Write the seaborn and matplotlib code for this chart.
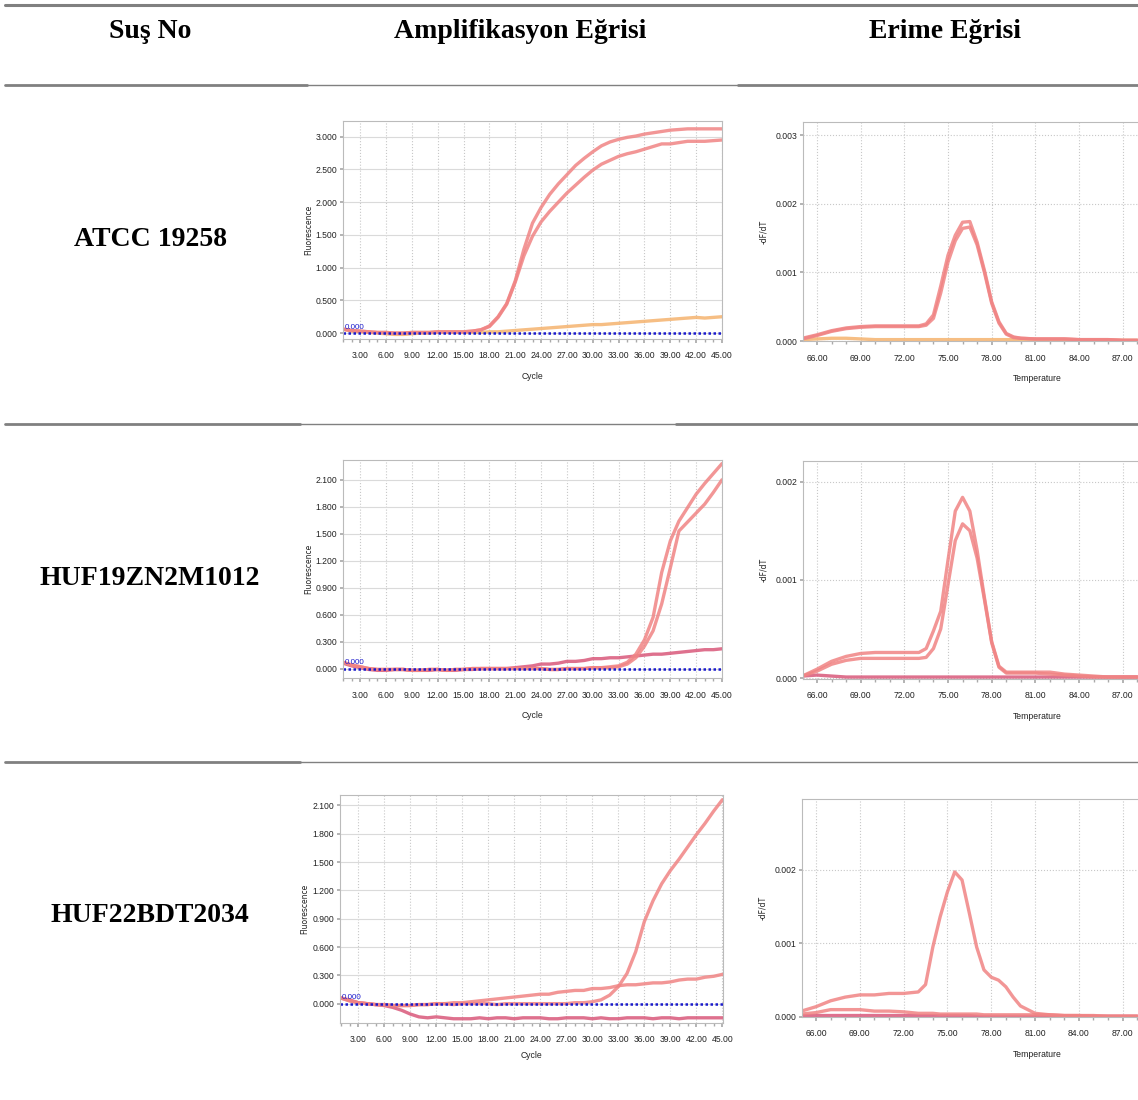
import numpy as np
import pandas as pd
import seaborn as sns
import matplotlib.pyplot as plt
from matplotlib.ticker import MultipleLocator, FormatStrFormatter
from matplotlib.lines import Line2D

# tablo basliklari ve sus isimleri
headers = ["Suş No", "Amplifikasyon Eğrisi", "Erime Eğrisi"]
strains = ["ATCC 19258", "HUF19ZN2M1012", "HUF22BDT2034"]

cycles = list(range(1, 46))

# --- amplifikasyon egrileri (Fluorescence) ---
amp1_a = [0.06, 0.04, 0.03, 0.02, 0.01, 0.01, 0.00, 0.00, 0.01, 0.01, 0.01, 0.02, 0.02, 0.02, 0.02,
          0.03, 0.05, 0.11, 0.25, 0.45, 0.80, 1.28, 1.68, 1.92, 2.12, 2.28, 2.42, 2.56, 2.67, 2.77,
          2.86, 2.92, 2.96, 2.99, 3.01, 3.04, 3.06, 3.08, 3.10, 3.11, 3.12, 3.12, 3.12, 3.12, 3.12]
amp1_b = [0.06, 0.04, 0.03, 0.02, 0.01, 0.01, 0.00, 0.00, 0.01, 0.01, 0.01, 0.02, 0.02, 0.02, 0.02,
          0.03, 0.05, 0.10, 0.24, 0.44, 0.78, 1.18, 1.48, 1.70, 1.86, 2.00, 2.14, 2.26, 2.38, 2.49,
          2.58, 2.64, 2.70, 2.74, 2.77, 2.81, 2.85, 2.89, 2.89, 2.91, 2.93, 2.93, 2.93, 2.94, 2.95]
amp1_neg = [0.06, 0.03, 0.02, 0.01, 0.00, -0.01, -0.02, -0.02, -0.01, 0.00, 0.00, 0.01, 0.01, 0.01, 0.01,
            0.01, 0.01, 0.02, 0.02, 0.03, 0.04, 0.05, 0.06, 0.07, 0.08, 0.09, 0.10, 0.11, 0.12, 0.13,
            0.13, 0.14, 0.15, 0.16, 0.17, 0.18, 0.19, 0.20, 0.21, 0.22, 0.23, 0.24, 0.23, 0.24, 0.25]

amp2_a = [0.07, 0.04, 0.02, 0.00, -0.01, -0.01, -0.01, -0.01, -0.02, -0.02, -0.01, -0.01, -0.02, -0.01, -0.01,
          0.00, 0.00, 0.00, 0.00, 0.00, 0.00, 0.00, 0.00, 0.00, -0.01, -0.01, 0.00, 0.00, 0.00, 0.01,
          0.01, 0.02, 0.03, 0.07, 0.16, 0.32, 0.57, 1.07, 1.42, 1.64, 1.79, 1.94, 2.06, 2.17, 2.28]
amp2_b = [0.07, 0.04, 0.02, 0.00, -0.01, -0.01, -0.01, -0.01, -0.02, -0.02, -0.01, -0.01, -0.02, -0.01, -0.01,
          0.00, 0.00, 0.00, 0.00, 0.00, 0.00, 0.00, 0.00, 0.00, -0.01, -0.01, 0.00, 0.00, 0.00, 0.01,
          0.01, 0.01, 0.02, 0.05, 0.12, 0.25, 0.42, 0.72, 1.12, 1.53, 1.63, 1.73, 1.83, 1.96, 2.10]
amp2_c = [0.06, 0.03, 0.01, -0.01, -0.02, -0.02, -0.01, -0.01, -0.02, -0.02, -0.02, -0.01, -0.02, -0.02, -0.01,
          -0.01, 0.00, 0.00, 0.00, 0.00, 0.01, 0.02, 0.03, 0.05, 0.05, 0.06, 0.08, 0.08, 0.09, 0.11,
          0.11, 0.12, 0.12, 0.13, 0.14, 0.15, 0.16, 0.16, 0.17, 0.18, 0.19, 0.20, 0.21, 0.21, 0.22]

amp3_a = [0.06, 0.03, 0.01, 0.00, -0.01, -0.01, -0.02, -0.02, -0.02, -0.01, -0.01, 0.00, 0.00, -0.01, 0.00,
          0.00, 0.00, 0.00, -0.01, 0.00, 0.00, 0.00, 0.00, 0.00, 0.00, 0.00, 0.00, 0.01, 0.01, 0.02,
          0.04, 0.09, 0.18, 0.32, 0.55, 0.87, 1.09, 1.27, 1.41, 1.53, 1.66, 1.79, 1.91, 2.04, 2.16]
amp3_b = [0.06, 0.03, 0.01, 0.00, -0.01, -0.01, -0.02, -0.02, -0.02, -0.01, -0.01, 0.00, 0.00, 0.01, 0.01,
          0.02, 0.03, 0.04, 0.05, 0.06, 0.07, 0.08, 0.09, 0.10, 0.10, 0.12, 0.13, 0.14, 0.14, 0.16,
          0.16, 0.17, 0.19, 0.20, 0.20, 0.21, 0.22, 0.22, 0.23, 0.25, 0.26, 0.26, 0.28, 0.29, 0.31]
amp3_c = [0.06, 0.04, 0.01, 0.00, -0.01, -0.02, -0.04, -0.07, -0.11, -0.14, -0.15, -0.14, -0.15, -0.16, -0.16,
          -0.16, -0.15, -0.16, -0.15, -0.15, -0.16, -0.15, -0.15, -0.15, -0.16, -0.16, -0.15, -0.15, -0.15, -0.16,
          -0.15, -0.16, -0.16, -0.15, -0.15, -0.15, -0.16, -0.15, -0.15, -0.16, -0.15, -0.15, -0.15, -0.15, -0.15]

# --- erime egrileri (-dF/dT) ---
temps = [65, 66, 67, 68, 69, 70, 71, 72, 73, 73.5, 74, 74.5, 75, 75.5, 76, 76.5, 77, 77.5,
         78, 78.5, 79, 79.5, 80, 81, 82, 83, 84, 85, 86, 87, 88]

melt1_a = [0.00004, 0.00009, 0.00015, 0.00019, 0.00021, 0.00022, 0.00022, 0.00022, 0.00022, 0.00025, 0.00038,
           0.00080, 0.00125, 0.00154, 0.00173, 0.00174, 0.00144, 0.00103, 0.00057, 0.00028, 0.00011, 0.00006,
           0.00004, 0.00003, 0.00003, 0.00003, 0.00002, 0.00002, 0.00002, 0.00001, 0.00001]
melt1_b = [0.00003, 0.00008, 0.00014, 0.00018, 0.00020, 0.00021, 0.00021, 0.00021, 0.00021, 0.00023, 0.00033,
           0.00070, 0.00115, 0.00146, 0.00164, 0.00166, 0.00140, 0.00100, 0.00055, 0.00026, 0.00010, 0.00005,
           0.00004, 0.00003, 0.00003, 0.00003, 0.00002, 0.00002, 0.00002, 0.00001, 0.00001]
melt1_neg = [0.00002, 0.00003, 0.00004, 0.00004, 0.00003, 0.00002, 0.00002, 0.00002, 0.00002, 0.00002, 0.00002,
             0.00002, 0.00002, 0.00002, 0.00002, 0.00002, 0.00002, 0.00002, 0.00002, 0.00002, 0.00002, 0.00002,
             0.00002, 0.00002, 0.00001, 0.00001, 0.00001, 0.00001, 0.00001, 0.00001, 0.00001]

melt2_a = [0.00002, 0.00009, 0.00017, 0.00022, 0.00025, 0.00026, 0.00026, 0.00026, 0.00026, 0.00030, 0.00048,
           0.00068, 0.00120, 0.00170, 0.00184, 0.00170, 0.00130, 0.00082, 0.00037, 0.00012, 0.00006, 0.00006,
           0.00006, 0.00006, 0.00006, 0.00004, 0.00003, 0.00002, 0.00001, 0.00001, 0.00001]
melt2_b = [0.00002, 0.00007, 0.00014, 0.00018, 0.00020, 0.00020, 0.00020, 0.00020, 0.00020, 0.00021, 0.00030,
           0.00050, 0.00095, 0.00140, 0.00157, 0.00150, 0.00122, 0.00080, 0.00036, 0.00011, 0.00005, 0.00005,
           0.00005, 0.00005, 0.00004, 0.00003, 0.00002, 0.00001, 0.00001, 0.00001, 0.00001]
melt2_c = [0.00002, 0.00003, 0.00002, 0.00001, 0.00001, 0.00001, 0.00001, 0.00001, 0.00001, 0.00001, 0.00001,
           0.00001, 0.00001, 0.00001, 0.00001, 0.00001, 0.00001, 0.00001, 0.00001, 0.00001, 0.00001, 0.00001,
           0.00001, 0.00001, 0.00001, 0.00001, 0.00001, 0.00001, 0.00001, 0.00001, 0.00001]

melt3_a = [0.00008, 0.00014, 0.00022, 0.00027, 0.00030, 0.00030, 0.00032, 0.00032, 0.00034, 0.00044, 0.00095,
           0.00136, 0.00170, 0.00197, 0.00186, 0.00141, 0.00095, 0.00064, 0.00054, 0.00050, 0.00041, 0.00027,
           0.00015, 0.00005, 0.00003, 0.00002, 0.00002, 0.00001, 0.00001, 0.00001, 0.00001]
melt3_b = [0.00004, 0.00006, 0.00010, 0.00010, 0.00010, 0.00008, 0.00008, 0.00007, 0.00005, 0.00005, 0.00005,
           0.00004, 0.00004, 0.00004, 0.00004, 0.00004, 0.00004, 0.00003, 0.00003, 0.00003, 0.00003, 0.00003,
           0.00003, 0.00003, 0.00003, 0.00002, 0.00002, 0.00002, 0.00001, 0.00001, 0.00001]
melt3_c = [0.00002, 0.00002, 0.00002, 0.00002, 0.00002, 0.00002, 0.00002, 0.00002, 0.00002, 0.00002, 0.00002,
           0.00002, 0.00002, 0.00002, 0.00002, 0.00002, 0.00001, 0.00001, 0.00001, 0.00001, 0.00001, 0.00001,
           0.00001, 0.00001, 0.00001, 0.00001, 0.00001, 0.00001, 0.00001, 0.00001, 0.00001]

RED = "#F08484"
DARK = "#D9587A"
ORANGE = "#F5B36E"
BLUE = "#1A1ACC"

sns.set_theme(style="white")
plt.rcParams["font.family"] = ["DejaVu Sans"]

W, H = 1138, 1100
fig = plt.figure(figsize=(W / 100, H / 100), dpi=100)


def px_axes(x0, y0, x1, y1):
    return fig.add_axes([x0 / W, 1 - y1 / H, (x1 - x0) / W, (y1 - y0) / H])


tick_family = ["Liberation Sans", "DejaVu Sans"]
tick_size = 6.2


def style_axes(ax, xmaj, ymaj, xfmt, yfmt, hgrid_dotted):
    ax.xaxis.set_major_locator(MultipleLocator(xmaj))
    ax.xaxis.set_minor_locator(MultipleLocator(1))
    ax.yaxis.set_major_locator(MultipleLocator(ymaj))
    ax.xaxis.set_major_formatter(FormatStrFormatter(xfmt))
    ax.yaxis.set_major_formatter(FormatStrFormatter(yfmt))
    ax.tick_params(axis="x", which="major", length=3, pad=6, color="#AAAAAA", labelcolor="#222222",
                   direction="out", bottom=True)
    ax.tick_params(axis="x", which="minor", length=2, color="#AAAAAA", direction="out", bottom=True)
    ax.tick_params(axis="y", which="major", length=2, pad=2, color="#AAAAAA", labelcolor="#222222",
                   direction="out", left=True)
    for lab in ax.get_xticklabels() + ax.get_yticklabels():
        lab.set_fontfamily(tick_family)
        lab.set_fontsize(tick_size)
    ax.grid(axis="x", which="major", color="#C8C8C8", linestyle=":", linewidth=0.8)
    if hgrid_dotted:
        ax.grid(axis="y", which="major", color="#C8C8C8", linestyle=":", linewidth=0.8)
    else:
        ax.grid(axis="y", which="major", color="#DADADA", linestyle="-", linewidth=0.8)
    for sp in ax.spines.values():
        sp.set_color("#BBBBBB")
        sp.set_linewidth(0.8)


def amp_panel(box, curves, ylim, ymaj, xlim, label_y):
    ax = px_axes(*box)
    for vals, col in curves:
        sns.lineplot(x=cycles, y=vals, ax=ax, color=col, linewidth=2.4, alpha=0.85)
    ax.axhline(0, color=BLUE, linestyle=(0, (1, 1)), linewidth=1.8)
    ax.text(1.15, 0.01 * (ylim[1] - ylim[0]), "0.000", color=BLUE, fontsize=5.8,
            family=tick_family, va="bottom", ha="left")
    ax.set_xlim(*xlim)
    ax.set_ylim(*ylim)
    ax.set_ylabel("Fluorescence", fontsize=5.5, color="#222222")
    ax.set_xlabel("Cycle", fontsize=6.2, family=tick_family, color="#222222")
    ax.yaxis.set_label_coords(-0.079, 0.5)
    ax.xaxis.set_label_coords(0.5, label_y)
    style_axes(ax, 3, ymaj, "%.2f", "%.3f", False)
    return ax


def melt_panel(box, curves, ylim, label_y):
    ax = px_axes(*box)
    for vals, col in curves:
        sns.lineplot(x=temps, y=vals, ax=ax, color=col, linewidth=2.4, alpha=0.85)
    ax.set_xlim(65.04, 88.05)
    ax.set_ylim(*ylim)
    ax.set_ylabel("-dF/dT", fontsize=5.5, color="#222222")
    ax.set_xlabel("Temperature", fontsize=6.2, family=tick_family, color="#222222")
    ax.yaxis.set_label_coords(-0.104, 0.5)
    ax.xaxis.set_label_coords(0.7, label_y)
    style_axes(ax, 3, 0.001, "%.2f", "%.3f", True)
    ax.spines["right"].set_visible(False)
    return ax


# amplifikasyon
amp_panel((343, 121, 722, 339), [(amp1_neg, ORANGE), (amp1_b, RED), (amp1_a, RED)],
          (-0.09, 3.24), 0.5, (1, 45), -0.15)
amp_panel((343, 460, 722, 678), [(amp2_c, DARK), (amp2_b, RED), (amp2_a, RED)],
          (-0.105, 2.32), 0.3, (1, 45), -0.15)
amp_panel((340, 795, 723, 1023), [(amp3_c, DARK), (amp3_b, RED), (amp3_a, RED)],
          (-0.205, 2.21), 0.3, (0.9, 45.07), -0.125)

# erime
melt_panel((803, 122, 1138, 341), [(melt1_neg, ORANGE), (melt1_b, RED), (melt1_a, RED)],
           (0, 0.00319), -0.15)
melt_panel((803, 461, 1138, 679), [(melt2_c, DARK), (melt2_b, RED), (melt2_a, RED)],
           (-0.00001, 0.00221), -0.15)
melt_panel((802, 799, 1138, 1017), [(melt3_c, DARK), (melt3_b, RED), (melt3_a, RED)],
           (0, 0.00296), -0.15)

# tablo metinleri
serif = ["Liberation Serif", "DejaVu Serif"]
for txt, xc in zip(headers, [150, 520, 945]):
    fig.text(xc / W, 1 - 31 / H, txt, ha="center", va="center", fontsize=20,
             fontweight="bold", family=serif, color="black")
for txt, yc in zip(strains, [240, 578, 916]):
    fig.text(150 / W, 1 - yc / H, txt, ha="center", va="center", fontsize=20,
             fontweight="bold", family=serif, color="black")


# tablo cizgileri
def hline(x0, x1, y, lw):
    fig.add_artist(Line2D([x0 / W, x1 / W], [1 - y / H, 1 - y / H], color="#808080",
                          linewidth=lw, transform=fig.transFigure))


hline(5, 1138, 5, 2.2)
hline(5, 307, 85, 2.0)
hline(307, 738, 85, 1.0)
hline(738, 1138, 85, 2.0)
hline(5, 300, 424, 2.0)
hline(300, 676, 424, 1.0)
hline(676, 1138, 424, 2.0)
hline(5, 300, 762, 2.0)
hline(300, 1138, 762, 1.0)

fig.savefig("out.png", dpi=100)
